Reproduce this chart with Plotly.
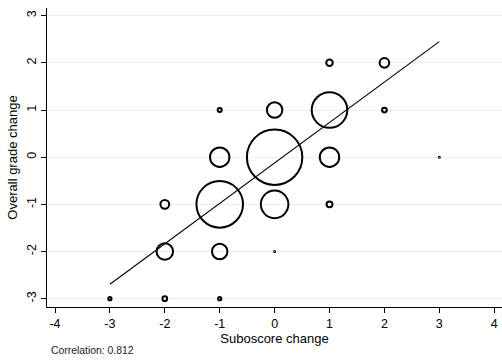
import numpy as np
import plotly.graph_objects as go

# Grade-change pairs and how many students fall on each pair
sub_change = [0, -1, 1, 0, -1, 1, -2, -1, 0, 2, -2, 1, 1, -2, 2, -1, -3, -1, 0, 3]
overall_change = [0, -1, 1, -1, 0, 0, -2, -2, 1, 2, -1, 2, -1, -3, 1, 1, -3, -3, -2, 0]
counts = [366, 262, 157, 97, 51, 51, 38, 34, 34, 15, 13, 8, 7, 5, 5, 4, 3, 3, 1, 1]

# Linear fit endpoints
fit_x = [-3, 3]
fit_y = [-2.695, 2.449]

x_ticks = [-4, -3, -2, -1, 0, 1, 2, 3, 4]
x_tick_text = ["-4", "-3", "-2", "-1", "0", "1", "2", "3", "4"]
y_ticks = [-3, -2, -1, 0, 1, 2, 3]
y_tick_text = ["-3", "-2", "-1", "0", "1", "2", "3"]

correlation_note = "Correlation: 0.812"

line_w = 2.0
diam = np.maximum(3.0 * np.sqrt(np.array(counts, dtype=float)) - line_w, 1.0)

fig = go.Figure()
fig.add_trace(go.Scatter(
    x=sub_change, y=overall_change, mode="markers",
    marker=dict(size=diam, sizemode="diameter", color="rgba(255,255,255,0)",
                opacity=1, line=dict(color="#000000", width=line_w)),
    hoverinfo="skip", showlegend=False,
))
fig.add_trace(go.Scatter(
    x=fit_x, y=fit_y, mode="lines",
    line=dict(color="black", width=1.1),
    hoverinfo="skip", showlegend=False,
))

font_family = "Liberation Sans, Arial, sans-serif"
fig.update_layout(
    width=502, height=361,
    margin=dict(l=47, r=0, t=8, b=54, autoexpand=False),
    paper_bgcolor="white", plot_bgcolor="white",
    font=dict(family=font_family, color="black", size=12),
    xaxis=dict(
        range=[-4.146, 4.142], tickmode="array", tickvals=x_ticks, ticktext=x_tick_text,
        showgrid=False, zeroline=False, showline=True, linecolor="black", linewidth=1,
        ticks="outside", ticklen=5, tickcolor="black", tickwidth=1,
        tickfont=dict(size=12.5),
        title=dict(text="Suboscore change", font=dict(size=13), standoff=2),
        automargin=False,
    ),
    yaxis=dict(
        range=[-3.176, 3.163], tickmode="array", tickvals=y_ticks, ticktext=y_tick_text,
        showgrid=True, gridcolor="#e8f0f0", gridwidth=1,
        zeroline=False, showline=True, linecolor="black", linewidth=1,
        ticks="outside", ticklen=5, tickcolor="black", tickwidth=1,
        tickangle=-90, tickfont=dict(size=12.5),
        title=dict(text="Overall grade change", font=dict(size=13), standoff=4),
        automargin=False,
    ),
    annotations=[dict(
        text=correlation_note, xref="paper", yref="paper",
        x=0.005, y=-0.147, xanchor="left", yanchor="middle",
        showarrow=False, font=dict(size=10.4, color="#222222"),
    )],
)

fig.write_html("out.html")
